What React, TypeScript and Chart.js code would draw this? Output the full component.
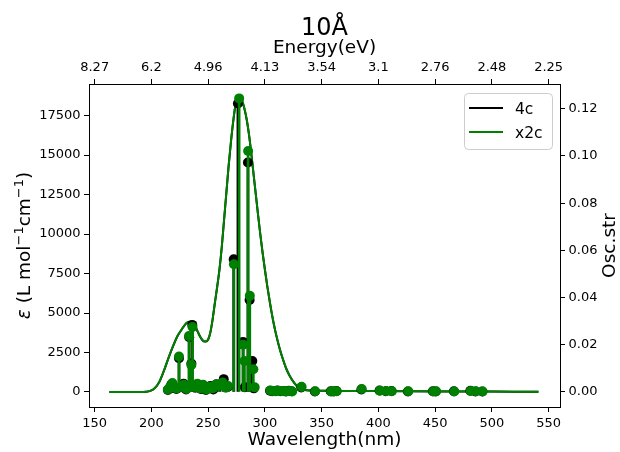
import { useEffect, useRef } from 'react';
import { Chart, registerables } from 'chart.js';

Chart.register(...registerables);

// ---- text ----
const chartTitle = '10Å';
const bottomAxisTitle = 'Wavelength(nm)';
const topAxisTitle = 'Energy(eV)';
// left axis label pieces: [text, style] where style is 'it' (italic), 'rm' or 'sup'
const leftAxisTitleParts: [string, string][] = [
  ['ε', 'it'],
  [' (L mol', 'rm'],
  ['−1', 'sup'],
  ['cm', 'rm'],
  ['−1', 'sup'],
  [')', 'rm'],
];
const rightAxisTitle = 'Osc.str';
const seriesNames = ['4c', 'x2c'];
const seriesColors = ['#000000', '#008000'];

// ---- ticks ----
const wavelengthTicks = [150, 200, 250, 300, 350, 400, 450, 500, 550];
const energyTickLabels = ['8.27', '6.2', '4.96', '4.13', '3.54', '3.1', '2.76', '2.48', '2.25'];
const epsTicks = [0, 2500, 5000, 7500, 10000, 12500, 15000, 17500];
const oscTicks = [0, 0.02, 0.04, 0.06, 0.08, 0.1, 0.12];

// ---- broadened absorption spectra (wavelength in nm, epsilon) ----
const curveWavelength = [
  163, 180, 190, 195, 199, 203, 207, 211, 215, 219, 223, 227, 231, 234, 237, 240,
  243, 246, 248, 250, 252, 254, 256, 258, 260, 262, 264, 266, 268, 270, 272, 274,
  276, 278, 280, 282, 284, 286, 288, 290, 292, 294, 296, 298, 300, 302, 304, 306,
  308, 310, 313, 316, 319, 322, 326, 330, 335, 340, 360, 400, 450, 500, 541,
];
const curveEps4c = [
  0, 0, 2, 14, 68, 245, 640, 1340, 2140, 2890, 3540, 3990, 4370, 4450, 4340, 3940,
  3490, 3210, 3190, 3320, 3790, 4630, 5680, 6680, 7780, 9180, 10880, 12580, 14280, 15780, 17080, 18120,
  18510, 18600, 18400, 17910, 17220, 16280, 15090, 13790, 12490, 11190, 9940, 8790, 7740, 6740, 5840, 4990,
  4240, 3590, 2740, 2040, 1440, 995, 555, 238, 128, 94, 69, 59, 39, 24, 15,
];
const curveEpsX2c = [
  0, 0, 2, 15, 70, 250, 650, 1350, 2150, 2900, 3550, 4000, 4380, 4460, 4350, 3950,
  3500, 3220, 3200, 3330, 3800, 4650, 5700, 6700, 7800, 9200, 10900, 12600, 14300, 15800, 17100, 18150,
  18550, 18650, 18450, 17950, 17250, 16300, 15100, 13800, 12500, 11200, 9950, 8800, 7750, 6750, 5850, 5000,
  4250, 3600, 2750, 2050, 1450, 1000, 560, 240, 130, 95, 70, 60, 40, 25, 15,
];

// ---- excitations (wavelength in nm, oscillator strength) ----
const stemWavelength4c = [
  214.5, 217.5, 220, 222, 224.3, 226, 228.3, 230.5, 233.3, 235.2, 236, 238.5, 241, 243.5,
  245.4, 248, 251.9, 254.5, 257.2, 260.1, 263.7, 267.5, 272.5, 276.2, 280.7, 282.2, 285,
  286.5, 288.9, 290.2, 304.5, 306.5, 309, 311, 314, 316, 318.5, 321, 323.5, 332, 344, 358,
  360.5, 363, 385, 401, 406.5, 411.5, 426, 448, 450.5, 466.5, 481, 485.5, 491.5,
];
const stemOsc4c = [
  0.0008, 0.003, 0.0016, 0.0012, 0.0143, 0.002, 0.0035, 0.001, 0.0232, 0.012, 0.0284, 0.0018, 0.003, 0.0012,
  0.0028, 0.0008, 0.0025, 0.001, 0.0032, 0.003, 0.0054, 0.0022, 0.0562, 0.1222, 0.0212, 0.002, 0.0972,
  0.039, 0.0131, 0.0015, 0.0005, 0.0003, 0.0004, 0.0006, 0.0003, 0.0004, 0.0002, 0.0005, 0.0003, 0.0019, 0.0002, 0.0003,
  0.0002, 0.0004, 0.001, 0.0006, 0.0003, 0.0004, 0.0002, 0.0003, 0.0002, 0.0003, 0.0005, 0.0002, 0.0002,
];
const stemWavelengthX2c = [
  214.5, 216.5, 218.5, 220.5, 222.5, 224.3, 226.5, 228.5, 231, 233.1, 235.2, 236.2, 238.5, 240.5,
  243, 245.5, 248.5, 251.5, 254, 256.5, 259.5, 262.8, 265.5, 267.5, 272.7, 277.3, 280.9, 282,
  285.2, 286.7, 289.8, 291, 304.8, 307, 309.5, 311.5, 314.5, 316.5, 319, 321.5, 324, 332.3, 344.3,
  358.3, 361, 363.3, 385.3, 401.3, 406.8, 411.8, 426.3, 448.3, 450.8, 466.8, 481.3, 485.8, 491.8,
];
const stemOscX2c = [
  0.001, 0.0022, 0.0038, 0.0018, 0.0015, 0.015, 0.0025, 0.003, 0.0012, 0.0237, 0.0114, 0.0275, 0.0022, 0.0035,
  0.0015, 0.003, 0.001, 0.0022, 0.0015, 0.003, 0.0028, 0.004, 0.0018, 0.0025, 0.0541, 0.1244, 0.02, 0.0131,
  0.1021, 0.0407, 0.0096, 0.002, 0.0006, 0.0004, 0.0003, 0.0005, 0.0004, 0.0003, 0.0003, 0.0004, 0.0002, 0.0022, 0.0003,
  0.0002, 0.0003, 0.0003, 0.0012, 0.0005, 0.0004, 0.0003, 0.0003, 0.0002, 0.0003, 0.0002, 0.0004, 0.0003, 0.0002,
];

const FONT = "'DejaVu Sans', sans-serif";
const tickFont = { family: FONT, size: 13 };
const labelFont = { family: FONT, size: 18.5 };

const pairs = (xs: number[], ys: number[]) => xs.map((x, i) => ({ x, y: ys[i] }));

const axisStyle = {
  type: 'linear' as const,
  offset: false,
  grid: {
    display: true,
    offset: false,
    drawOnChartArea: false,
    drawTicks: true,
    tickLength: 5,
    tickWidth: 1,
    tickColor: '#000',
  },
  border: { display: true, color: '#000', width: 1 },
};

const tickStyle = {
  font: tickFont,
  color: '#000',
  padding: 3.5,
  autoSkip: false,
  maxRotation: 0,
  minRotation: 0,
};

// Figure title, rotated y-axis labels and the framed legend
const decorations = {
  id: 'decorations',
  afterDraw(chart: any) {
    const { ctx, chartArea } = chart;
    const midY = (chartArea.top + chartArea.bottom) / 2;
    ctx.save();
    ctx.fillStyle = '#000';
    ctx.font = `24px ${FONT}`;
    ctx.textAlign = 'center';
    ctx.textBaseline = 'alphabetic';
    ctx.fillText(chartTitle, (chartArea.left + chartArea.right) / 2, 35);

    // left label, reading bottom to top
    const fontFor = (style: string) =>
      style === 'it' ? `italic 18.5px ${FONT}` : style === 'sup' ? `13px ${FONT}` : `18.5px ${FONT}`;
    ctx.save();
    ctx.translate(30, midY);
    ctx.rotate(-Math.PI / 2);
    ctx.textAlign = 'left';
    let total = 0;
    leftAxisTitleParts.forEach(([t, s]) => {
      ctx.font = fontFor(s);
      total += ctx.measureText(t).width;
    });
    let cx = -total / 2;
    leftAxisTitleParts.forEach(([t, s]) => {
      ctx.font = fontFor(s);
      ctx.fillText(t, cx, s === 'sup' ? -7 : 0);
      cx += ctx.measureText(t).width;
    });
    ctx.restore();

    // right label, reading bottom to top
    ctx.save();
    ctx.translate(614.5, midY);
    ctx.rotate(-Math.PI / 2);
    ctx.textAlign = 'center';
    ctx.font = `18.5px ${FONT}`;
    ctx.fillText(rightAxisTitle, 0, 0);
    ctx.restore();

    // legend
    const boxW = 88;
    const boxH = 56;
    const boxX = chartArea.right - 8 - boxW;
    const boxY = chartArea.top + 9;
    ctx.beginPath();
    ctx.roundRect(boxX + 0.5, boxY + 0.5, boxW, boxH, 4);
    ctx.fillStyle = 'rgba(255,255,255,0.8)';
    ctx.fill();
    ctx.strokeStyle = '#cccccc';
    ctx.lineWidth = 1;
    ctx.stroke();

    ctx.font = `15.5px ${FONT}`;
    ctx.textAlign = 'left';
    seriesNames.forEach((name, i) => {
      const y = boxY + 15 + i * 24;
      ctx.beginPath();
      ctx.moveTo(boxX + 5, y);
      ctx.lineTo(boxX + 39, y);
      ctx.strokeStyle = seriesColors[i];
      ctx.lineWidth = 2;
      ctx.stroke();
      ctx.fillStyle = '#000';
      ctx.fillText(name, boxX + 51, y + 5.5);
    });
    ctx.restore();
  },
};

export default function App() {
  const canvasRef = useRef<HTMLCanvasElement>(null);

  useEffect(() => {
    const canvas = canvasRef.current;
    if (!canvas) return;

    const chart = new Chart(canvas, {
      type: 'line',
      data: {
        datasets: [
          {
            type: 'line',
            label: seriesNames[0],
            data: pairs(curveWavelength, curveEps4c),
            borderColor: seriesColors[0],
            borderWidth: 2,
            pointRadius: 0,
            cubicInterpolationMode: 'monotone',
            xAxisID: 'x',
            yAxisID: 'y',
            order: 6,
          },
          {
            type: 'line',
            label: seriesNames[1],
            data: pairs(curveWavelength, curveEpsX2c),
            borderColor: seriesColors[1],
            borderWidth: 2,
            pointRadius: 0,
            cubicInterpolationMode: 'monotone',
            xAxisID: 'x',
            yAxisID: 'y',
            order: 5,
          },
          {
            type: 'bar',
            label: seriesNames[0] + ' stems',
            data: pairs(stemWavelength4c, stemOsc4c),
            backgroundColor: seriesColors[0],
            borderWidth: 0,
            barThickness: 2,
            grouped: false,
            xAxisID: 'x',
            yAxisID: 'yR',
            order: 4,
          },
          {
            type: 'scatter',
            label: seriesNames[0] + ' markers',
            data: pairs(stemWavelength4c, stemOsc4c),
            backgroundColor: seriesColors[0],
            pointBackgroundColor: seriesColors[0],
            pointBorderWidth: 0,
            pointRadius: 5,
            showLine: false,
            xAxisID: 'x',
            yAxisID: 'yR',
            order: 3,
          },
          {
            type: 'bar',
            label: seriesNames[1] + ' stems',
            data: pairs(stemWavelengthX2c, stemOscX2c),
            backgroundColor: seriesColors[1],
            borderWidth: 0,
            barThickness: 2,
            grouped: false,
            xAxisID: 'x',
            yAxisID: 'yR',
            order: 2,
          },
          {
            type: 'scatter',
            label: seriesNames[1] + ' markers',
            data: pairs(stemWavelengthX2c, stemOscX2c),
            backgroundColor: seriesColors[1],
            pointBackgroundColor: seriesColors[1],
            pointBorderWidth: 0,
            pointRadius: 5,
            showLine: false,
            xAxisID: 'x',
            yAxisID: 'yR',
            order: 1,
          },
        ] as any,
      },
      options: {
        responsive: false,
        animation: false,
        devicePixelRatio: 1,
        events: [],
        layout: { padding: 0 },
        plugins: {
          legend: { display: false },
          tooltip: { enabled: false },
          title: { display: false },
        },
        scales: {
          x: {
            ...axisStyle,
            position: 'bottom',
            min: 145,
            max: 560,
            afterBuildTicks: (s: any) => {
              s.ticks = wavelengthTicks.map((value) => ({ value }));
            },
            afterFit: (s: any) => {
              s.height = 45;
            },
            ticks: { ...tickStyle, callback: (v: any) => String(v) },
            title: {
              display: true,
              text: bottomAxisTitle,
              font: labelFont,
              color: '#000',
              padding: { top: 0, bottom: 1 },
            },
          },
          xTop: {
            ...axisStyle,
            position: 'top',
            min: 145,
            max: 560,
            afterBuildTicks: (s: any) => {
              s.ticks = wavelengthTicks.map((value) => ({ value }));
            },
            afterFit: (s: any) => {
              s.height = 84;
            },
            ticks: { ...tickStyle, callback: (_v: any, i: number) => energyTickLabels[i] },
            title: {
              display: true,
              text: topAxisTitle,
              font: labelFont,
              color: '#000',
              padding: { top: 37, bottom: 0 },
            },
          },
          y: {
            ...axisStyle,
            position: 'left',
            min: -950,
            max: 19500,
            afterBuildTicks: (s: any) => {
              s.ticks = epsTicks.map((value) => ({ value }));
            },
            afterFit: (s: any) => {
              s.width = 89;
            },
            ticks: { ...tickStyle, callback: (v: any) => String(v) },
            title: { display: false },
          },
          yR: {
            ...axisStyle,
            position: 'right',
            min: -0.0064,
            max: 0.1305,
            afterBuildTicks: (s: any) => {
              s.ticks = oscTicks.map((value) => ({ value }));
            },
            afterFit: (s: any) => {
              s.width = 60;
            },
            ticks: { ...tickStyle, callback: (v: any) => Number(v).toFixed(2) },
            title: { display: false },
          },
        },
      } as any,
      plugins: [decorations],
    });

    return () => chart.destroy();
  }, []);

  return (
    <div
      style={{
        position: 'absolute',
        left: 0,
        top: 0,
        width: 620,
        height: 452,
        background: '#ffffff',
      }}
    >
      <canvas
        ref={canvasRef}
        width={620}
        height={452}
        style={{ display: 'block', width: 620, height: 452 }}
      />
    </div>
  );
}
